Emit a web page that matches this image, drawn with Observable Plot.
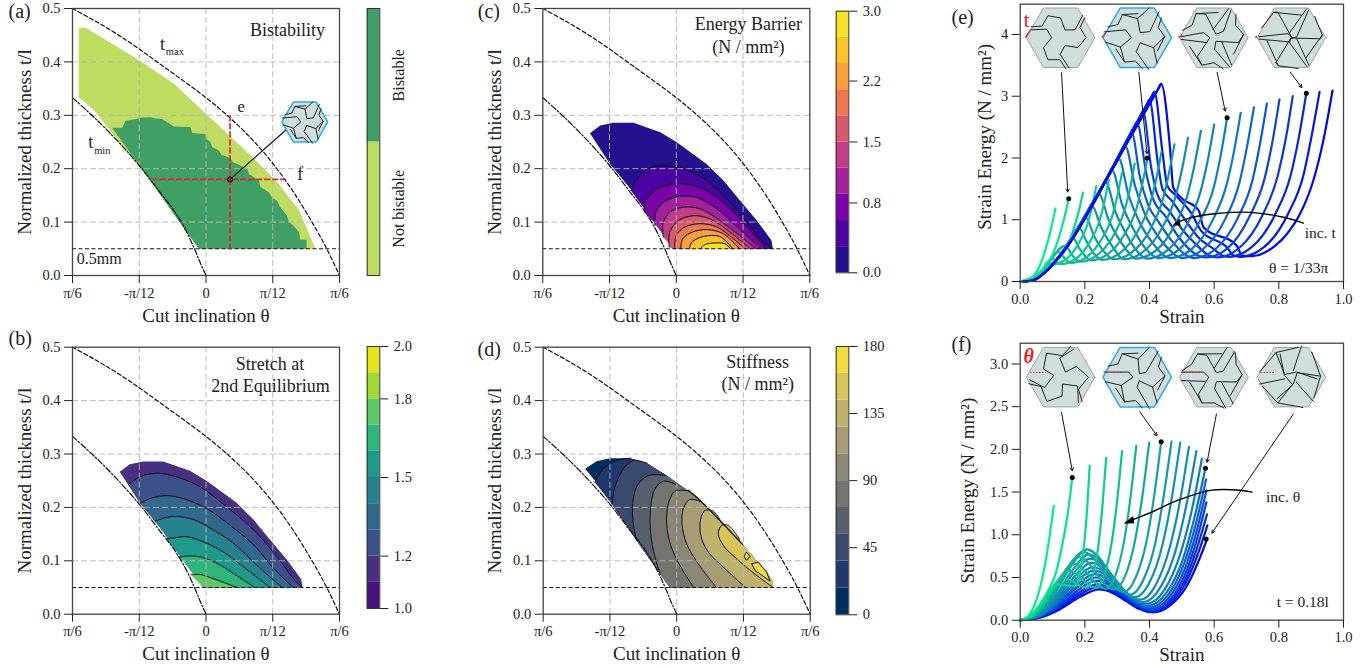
<!DOCTYPE html>
<html><head><meta charset="utf-8">
<script src="https://cdn.jsdelivr.net/npm/d3@7"></script>
<script src="https://cdn.jsdelivr.net/npm/@observablehq/plot@0.6"></script>
<style>html,body{margin:0;padding:0;background:#fff;width:1370px;height:668px;overflow:hidden}#root{position:relative;width:1370px;height:668px}svg{position:absolute}</style>
</head><body><div id="root"></div>
<script>
const serif='"Liberation Serif",serif';
// angle (degrees) / normalized thickness boundaries
const tMaxCurve=[[-30,.5],[-25,.477],[-20,.452],[-15,.424],[-10,.394],[-5,.364],[0,.333],[5,.298],[10,.258],[15,.21],[20,.152],[25,.083],[27.5,.044],[30,0]];
const tMinCurve=[[-30,.333],[-25,.295],[-20,.253],[-15,.206],[-10,.152],[-7.5,.125],[-5,.092],[-2.7,.052],[-1.2,.022],[0,0]];
const notBistableRegion=[[-28.6,.464],[-27,.464],[-15,.403],[-7.2,.359],[0,.303],[10,.225],[16,.175],[20.9,.122],[24.6,.05],[-1.6,.05],[-13.2,.184],[-25.1,.309],[-28.6,.334]];
const bistableRegion=[[-21.1,.2766],[-18.8,.2766],[-18.1,.29],[-15.5,.293],[-14.5,.296],[-12.5,.2965],[-11.5,.294],[-9.9,.293],[-7.2,.279],[-3.5,.278],[-3.1,.267],[-.1,.265],[.2,.255],[1,.25],[1.4,.24],[2.9,.234],[3.4,.226],[5.5,.22],[6,.212],[7.7,.206],[9.3,.2],[9.6,.19],[11.9,.178],[12.2,.166],[14.1,.156],[14.9,.145],[16,.14],[16.7,.128],[18.2,.112],[18.6,.1],[19.7,.093],[20.9,.081],[21.2,.067],[22.6,.067],[22.6,.05],[-1.6,.05],[-5.7,.097],[-12.5,.178]];
const outerUpper=[[-19.4,.2666],[-17.1,.281],[-14.1,.286],[-9.6,.286],[-3.6,.2684],[.1,.2497],[6.8,.209],[10.6,.178],[14.3,.1405],[18.1,.103],[21.4,.0656],[21.7,.05]];
const outerLower=[[-.6,.05],[-4.4,.0934],[-10,.159],[-14.9,.209]];
const stretchContours=[
 [[-17.3,.244],[-14.7,.258],[-10.9,.264],[-6.4,.2566],[-1.2,.238],[4.8,.2],[10.8,.157],[16,.107],[19.7,.066],[21.6,.05]],
 [[-14.7,.2085],[-12.4,.217],[-9.05,.222],[-4.9,.216],[.3,.197],[5.5,.166],[10.8,.129],[15.3,.085],[19.6,.05]],
 [[-11.5,.174],[-9.4,.18],[-6.8,.183],[-2.7,.177],[1.8,.157],[6.3,.132],[11.5,.091],[17.1,.05]],
 [[-8.9,.141],[-6.4,.144],[-4.2,.145],[-.45,.135],[4,.116],[8.5,.088],[14.4,.05]],
 [[-6.1,.107],[-3.8,.109],[-1.2,.107],[2.5,.0955],[6.3,.0755],[10.9,.05]],
 [[-3.4,.074],[-1.2,.074],[1.8,.066],[7,.05]]];
const stretchFills=["#47307f","#3c5089","#30698c","#26828e","#1f9a8a","#2fb47c","#5ec962"];
const barrierContours=[
 [[-10.2,.159],[-8.9,.181],[-5.9,.202],[-2.1,.205],[2.35,.198],[6.85,.178],[11.3,.144],[15.8,.1],[19.6,.0625],[21.5,.05]],
 [[-7.2,.119],[-6.6,.144],[-4.4,.162],[.1,.172],[4.6,.167],[9.1,.147],[13.6,.112],[17.3,.078],[20.2,.05]],
 [[-4.8,.094],[-4.6,.119],[-2.9,.137],[.5,.148],[4.6,.146],[9.1,.125],[13.6,.091],[19,.05]],
 [[-2.9,.072],[-3,.097],[-1.4,.119],[1.6,.128],[5.3,.125],[9.8,.103],[17.9,.05]],
 [[-1.6,.053],[-1.5,.081],[.5,.103],[3.9,.112],[7.6,.106],[12.1,.081],[16.6,.05]],
 [[-.3,.05],[-.05,.075],[2,.091],[5.3,.097],[9.1,.091],[12.8,.069],[15.5,.05]],
 [[1,.05],[1.45,.069],[3.5,.081],[6.9,.086],[10.6,.078],[14.2,.05]],
 [[2.95,.05],[3.5,.0625],[6.1,.073],[9.8,.073],[12.7,.05]],
 [[5.35,.05],[6.5,.058],[9.1,.061],[11,.059],[12.2,.05]]];
const barrierFills=["#24108c","#4a02a0","#7a02a8","#a3229b","#c23d88","#d9596b","#ed7953","#fb9f3a","#fdc328","#f7e225"];
const stiffOuterUpper=[[-20.6,.2723],[-18,.2866],[-15,.2922],[-10.5,.2922],[-6.75,.283],[-2.3,.2598],[4.5,.2192],[9.7,.1756],[15,.1288],[20.2,.0788],[21.6,.06],[21.6,.05]];
const stiffOuterLower=[[-1.5,.05],[-3.75,.0757],[-9,.1381],[-14.6,.2068],[-18.4,.2504]];
const stiffContours=[
 [[-18.4,.2473],[-16.5,.2723],[-13.5,.2879],[-10.5,.2922]],
 [[-14.5,.2068],[-13.9,.238],[-12,.2723],[-9.75,.2879],[-6.75,.283]],
 [[-9,.1381],[-9.75,.1693],[-9.9,.2068],[-8.85,.2411],[-6.4,.2598],[-2.6,.2598]],
 [[-3.75,.0757],[-4.88,.107],[-5.85,.1506],[-5.85,.2005],[-4.88,.2348],[-3,.2492],[0,.2423]],
 [[3.74,.0508],[.74,.0913],[-1.36,.1288],[-2.26,.1693],[-1.88,.2068],[-.38,.2305],[3,.2305]],
 [[8.83,.0508],[4.86,.0944],[2.24,.1319],[1.19,.1693],[1.49,.1974],[2.84,.2142],[5.6,.2099],[7.1,.1974]],
 [[15.35,.0508],[10.48,.0882],[7.1,.1163],[5.4,.1475],[5.4,.1787],[6.35,.1943],[8.23,.193],[9.7,.1774]],
 [[21.6,.0508],[17.97,.0726],[13.47,.1038],[10.48,.1288],[9.35,.1506],[10.1,.1662],[11.6,.1662],[14.2,.1394]]];
const stiffBlobs=[[[15.1,.1082],[15.7,.1163],[16.5,.1082],[15.7,.1007]],[[16.85,.0944],[18.3,.0976],[20.2,.0788],[21,.062],[19.5,.0707],[17.6,.0819]]];
const stiffEdge=[[2.6,.2317],[4.5,.2192],[9.7,.1756],[15,.1288]];
const stiffFills=["#002c62","#20386f","#3a4a6e","#585f6e","#74756f","#8b8777","#a69d75","#bfb26c","#d8c559"];
const stretchBar=["#45127a","#47307f","#3c5089","#30698c","#26828e","#1f9a8a","#2fb47c","#5ec962","#a0da39","#e3e419"];
const stiffBar=["#002c62","#20386f","#3a4a6e","#585f6e","#74756f","#8b8777","#a69d75","#bfb26c","#d8c559","#f5dc3e"];
// strain-energy curves, (e): increasing t
const e01=[[0,0],[.03,.04],[.06,.25],[.08,.55],[.095,.85],[.109,1.18]];
const e02=[[0,0],[.04,.07],[.08,.27],[.1,.43],[.12,.72],[.135,1],[.15,1.34]];
const e03=[[0,0],[.06,.13],[.09,.27],[.12,.38],[.15,.62],[.17,.93],[.185,1.22],[.194,1.44]];
const e04=[[0,0],[.04,.05],[.07,.18],[.083,.31],[.094,.27],[.136,.34],[.179,.6],[.207,.91],[.221,1.18],[.235,1.54]];
const e05=[[0,0],[.04,.05],[.07,.18],[.099,.37],[.125,.28],[.17,.36],[.214,.63],[.244,.96],[.259,1.26],[.274,1.64]];
const e06=[[0,0],[.04,.05],[.07,.18],[.119,.48],[.14,.36],[.156,.3],[.204,.39],[.251,.68],[.283,1.03],[.299,1.35],[.315,1.76]];
const e07=[[0,0],[.04,.05],[.07,.18],[.14,.58],[.16,.43],[.186,.32],[.236,.42],[.287,.73],[.32,1.11],[.338,1.46],[.354,1.91]];
const e08=[[0,0],[.03,.02],[.06,.09],[.1,.28],[.14,.55],[.161,.72],[.185,.52],[.205,.39],[.217,.34],[.27,.44],[.323,.77],[.359,1.17],[.376,1.54],[.394,2]];
const e09=[[0,0],[.03,.02],[.06,.09],[.1,.28],[.14,.55],[.16,.72],[.181,.88],[.205,.65],[.23,.44],[.253,.35],[.308,.46],[.363,.81],[.4,1.23],[.419,1.61],[.437,2.1]];
const e10=[[0,0],[.03,.02],[.06,.09],[.1,.28],[.14,.55],[.17,.78],[.19,.94],[.202,1.04],[.23,.72],[.26,.48],[.289,.36],[.345,.47],[.402,.84],[.439,1.29],[.458,1.7],[.477,2.22]];
const e11=[[0,0],[.03,.02],[.06,.09],[.1,.28],[.14,.55],[.18,.88],[.21,1.12],[.222,1.23],[.25,.88],[.285,.57],[.32,.36],[.38,.48],[.439,.87],[.479,1.35],[.499,1.78],[.519,2.33]];
const e12=[[0,0],[.03,.02],[.06,.09],[.1,.28],[.14,.55],[.19,.97],[.23,1.3],[.243,1.42],[.275,.98],[.31,.65],[.335,.47],[.356,.37],[.417,.49],[.478,.91],[.518,1.41],[.538,1.86],[.559,2.44]];
const e13=[[0,0],[.03,.02],[.06,.09],[.1,.28],[.14,.55],[.2,1.06],[.25,1.49],[.264,1.61],[.295,1.12],[.33,.75],[.36,.5],[.392,.37],[.454,.5],[.517,.93],[.558,1.46],[.579,1.93],[.6,2.54]];
const e14=[[.01,0],[.04,.02],[.09,.22],[.14,.53],[.21,1.15],[.27,1.68],[.284,1.8],[.315,1.25],[.35,.85],[.39,.52],[.428,.38],[.492,.52],[.555,.97],[.598,1.51],[.619,2.01],[.64,2.65]];
const e15=[[.01,0],[.04,.02],[.09,.22],[.14,.53],[.22,1.24],[.29,1.86],[.305,1.99],[.335,1.4],[.37,.95],[.41,.62],[.445,.42],[.464,.38],[.529,.52],[.595,.99],[.638,1.56],[.66,2.07],[.682,2.73]];
const e16=[[.01,0],[.04,.02],[.09,.22],[.14,.53],[.23,1.33],[.31,2.05],[.325,2.19],[.355,1.55],[.385,1.1],[.42,.78],[.46,.52],[.5,.38],[.567,.53],[.634,1.01],[.678,1.6],[.7,2.14],[.723,2.82]];
const e17=[[.01,0],[.04,.02],[.09,.22],[.14,.53],[.25,1.51],[.33,2.25],[.346,2.39],[.37,1.7],[.395,1.25],[.43,.95],[.47,.65],[.515,.42],[.537,.38],[.605,.53],[.673,1.03],[.718,1.63],[.74,2.18],[.763,2.88]];
const e18=[[.01,0],[.04,.02],[.09,.22],[.14,.53],[.26,1.6],[.35,2.48],[.361,2.58],[.39,1.75],[.41,1.35],[.45,1.05],[.49,.72],[.55,.42],[.573,.39],[.642,.54],[.71,1.06],[.756,1.67],[.779,2.23],[.802,2.95]];
const e19=[[.01,0],[.04,.02],[.09,.22],[.14,.53],[.27,1.69],[.37,2.66],[.38,2.75],[.405,1.85],[.425,1.4],[.46,1.15],[.5,.85],[.54,.62],[.585,.42],[.609,.39],[.679,.55],[.749,1.07],[.796,1.7],[.82,2.27],[.843,3]];
const e20=[[.01,0],[.04,.02],[.09,.22],[.14,.53],[.28,1.78],[.39,2.85],[.4,2.94],[.425,1.95],[.44,1.5],[.47,1.3],[.51,1],[.55,.72],[.6,.52],[.625,.42],[.645,.4],[.717,.56],[.789,1.09],[.837,1.73],[.861,2.31],[.885,3.05]];
const e21=[[.01,0],[.04,.02],[.09,.22],[.14,.53],[.29,1.87],[.405,2.98],[.415,3.07],[.44,2.1],[.455,1.55],[.48,1.4],[.53,1.1],[.56,.82],[.64,.55],[.66,.42],[.681,.4],[.755,.56],[.828,1.09],[.877,1.74],[.9,2.32],[.926,3.07]];
const e22=[[.01,0],[.04,.02],[.09,.22],[.14,.53],[.3,1.97],[.425,3.1],[.436,3.2],[.464,2.12],[.473,1.53],[.495,1.37],[.552,1.15],[.567,.88],[.67,.58],[.686,.42],[.717,.41],[.789,.58],[.825,.77],[.866,1.1],[.907,1.64],[.938,2.29],[.966,3.09]];
const curvesE=[e01,e02,e03,e04,e05,e06,e07,e08,e09,e10,e11,e12,e13,e14,e15,e16,e17,e18,e19,e20,e21,e22];
// (f): increasing theta
const f01=[[0,0],[.02,.03],[.04,.14],[.06,.36],[.08,.72],[.104,1.34]];
const f02=[[0,0],[.03,.05],[.06,.18],[.09,.37],[.11,.55],[.13,.88],[.146,1.22],[.161,1.67]];
const f03=[[0,0],[.03,.04],[.06,.16],[.09,.31],[.115,.42],[.14,.41],[.17,.4],[.185,.55],[.198,.9],[.207,1.3],[.215,1.81]];
const f04=[[0,0],[.033,.04],[.065,.175],[.098,.375],[.13,.5],[.149,.48],[.168,.44],[.186,.4],[.205,.38],[.225,.53],[.242,.88],[.254,1.32],[.266,1.9]];
const f05=[[0,0],[.037,.046],[.074,.203],[.111,.435],[.148,.58],[.17,.55],[.192,.48],[.213,.41],[.235,.38],[.261,.54],[.283,.91],[.299,1.37],[.315,1.98]];
const f06=[[0,0],[.041,.053],[.083,.23],[.124,.495],[.165,.66],[.19,.617],[.215,.515],[.24,.415],[.265,.37],[.296,.537],[.321,.92],[.34,1.405],[.359,2.04]];
const f07=[[0,0],[.045,.06],[.09,.26],[.135,.555],[.18,.74],[.208,.683],[.235,.55],[.263,.417],[.29,.36],[.326,.53],[.355,.93],[.377,1.43],[.399,2.08]];
const f08=[[0,0],[.049,.064],[.098,.28],[.146,.6],[.195,.8],[.226,.73],[.258,.565],[.289,.4],[.32,.33],[.358,.506],[.39,.91],[.413,1.42],[.436,2.09]];
const f09=[[0,0],[.052,.066],[.104,.29],[.155,.62],[.207,.83],[.24,.75],[.274,.565],[.307,.38],[.34,.3],[.382,.48],[.417,.89],[.442,1.41],[.468,2.09]];
const f10=[[0,0],[.053,.062],[.107,.27],[.16,.578],[.213,.77],[.249,.695],[.284,.52],[.32,.345],[.355,.27],[.401,.45],[.439,.867],[.467,1.39],[.495,2.08]];
const f11=[[0,0],[.054,.058],[.109,.252],[.163,.54],[.217,.72],[.255,.648],[.294,.48],[.332,.31],[.37,.24],[.42,.419],[.461,.83],[.492,1.35],[.522,2.03]];
const f12=[[0,0],[.055,.054],[.11,.235],[.165,.5],[.22,.67],[.26,.6],[.3,.44],[.34,.275],[.38,.21],[.434,.387],[.479,.794],[.512,1.31],[.545,1.98]];
const f13=[[0,0],[.056,.05],[.112,.217],[.168,.465],[.224,.62],[.266,.555],[.307,.405],[.349,.255],[.39,.19],[.447,.36],[.493,.75],[.528,1.24],[.562,1.89]];
const f14=[[0,0],[.057,.046],[.114,.203],[.17,.435],[.227,.58],[.269,.52],[.311,.375],[.353,.23],[.395,.17],[.454,.331],[.502,.7],[.537,1.17],[.573,1.78]];
const f15=[[0,0],[.058,.043],[.115,.189],[.173,.405],[.23,.54],[.273,.48],[.315,.345],[.358,.21],[.4,.15],[.458,.3],[.505,.645],[.54,1.08],[.575,1.65]];
const f16=[[0,0],[.058,.04],[.116,.175],[.174,.375],[.232,.5],[.275,.445],[.319,.315],[.362,.185],[.405,.13],[.461,.269],[.508,.589],[.542,.992],[.576,1.52]];
const f17=[[0,0],[.059,.037],[.118,.161],[.176,.345],[.235,.46],[.279,.409],[.323,.29],[.366,.171],[.41,.12],[.465,.246],[.51,.536],[.543,.9],[.576,1.38]];
const f18=[[0,0],[.059,.034],[.118,.147],[.178,.315],[.237,.42],[.28,.374],[.324,.265],[.367,.157],[.41,.11],[.465,.223],[.511,.483],[.544,.811],[.578,1.24]];
const f19=[[0,0],[.06,.03],[.12,.137],[.18,.29],[.24,.39],[.283,.347],[.325,.245],[.368,.144],[.41,.1],[.466,.2],[.511,.433],[.545,.726],[.579,1.11]];
const f20=[[0,0],[.061,.03],[.122,.126],[.184,.27],[.245,.36],[.286,.32],[.328,.225],[.369,.13],[.41,.09],[.465,.176],[.511,.374],[.544,.623],[.578,.95]];
const curvesF=[f01,f02,f03,f04,f05,f06,f07,f08,f09,f10,f11,f12,f13,f14,f15,f16,f17,f18,f19,f20];
const curveStops=["#00f088","#10a89a","#0c78c8","#0008ee"];
// unit-hexagon cell sketches: one 120-degree sector of the cut pattern
const hexOutline=[[1,0],[.5,.866],[-.5,.866],[-1,0],[-.5,-.866],[.5,-.866]];
const cutsE1=[[[-.89,-.23],[-.41,-.25],[-.26,0],[-.5,.29],[-.37,.64],[-.02,.64],[.15,.9]]];
const cutsE2=[[[-.97,-.17],[-.34,-.23],[-.17,0],[-.49,.27],[-.37,.71],[-.05,.68],[.15,.9]],[[-.49,.27],[-.93,.13]],[[-.37,.71],[-.62,.33]]];
const cutsE3=[[[-.95,-.03],[-.3,-.15],[-.12,0],[-.48,.55],[-.35,.8],[0,.73],[.27,.9]],[[-.95,.05],[-.2,.14]],[[-.35,.8],[-.7,.26]]];
const cutsE4=[[[-.95,-.03],[-.1,-.12],[0,-.02],[-.45,.72],[-.38,.82],[-.05,.86],[.2,.9]],[[-.95,.04],[-.08,.12]],[[-.38,.82],[-.72,.07]]];
const cutsF1=[[[-.9,.08],[-.47,.3],[-.2,-.05],[-.5,-.24],[-.41,-.7],[.05,-.63],[.3,-.9]]];
const cutsF2=[[[-.97,-.15],[-.25,-.15],[-.12,0],[-.47,.24],[-.37,.72],[-.05,.68],[.15,.9]],[[-.47,.24],[-.93,.13]],[[-.37,.72],[-.62,.33]]];
const cutsF3=[[[-.95,-.15],[-.3,-.15],[-.15,0],[-.45,.5],[-.35,.75],[0,.75],[.3,.9]],[[-.95,.1],[-.25,.12]],[[-.35,.75],[-.7,.15]]];
const cutsF4=[[[-.93,-.15],[-.45,-.72],[.2,-.87]],[[-.45,-.72],[-.2,-.08],[.15,-.15],[.75,.05]],[[-.93,.2],[-.2,.05]]];
const hexE=[[.125,3.947,cutsE1,0],[.362,3.947,cutsE2,1],[.599,3.947,cutsE3,0],[.839,3.947,cutsE4,0]];
const hexF=[[.125,2.845,cutsF1,0],[.362,2.845,cutsF2,1],[.599,2.845,cutsF3,0],[.839,2.845,cutsF4,0]];
const markE=[[.0164,3.95,.03,4.06],[.2535,3.95,.264,4.03],[.49,3.95,.5,3.995],[.727,3.95,.733,3.97]];
const markF=[[.03,2.9,.078,2.9],[.271,2.9,.315,2.9],[.505,2.9,.558,2.9],[.743,2.9,.79,2.9]];
const leadersE=[[.128,3.38,.147,1.45],[.367,3.39,.392,2.07],[.609,3.39,.634,2.76],[.835,3.39,.871,3.14]];
const leadersF=[[.128,2.43,.161,1.75],[.37,2.44,.423,2.16],[.607,2.415,.578,1.85],[.845,2.415,.593,1.02]];
const dotsE=[[.15,1.34],[.393,2],[.64,2.65],[.885,3.05]];
const dotsF=[[.161,1.67],[.436,2.09],[.573,1.78],[.575,.95]];
const incT=[[.876,.946],[.815,1.04],[.712,1.12],[.609,1.1],[.526,1.03],[.487,.962]];
const incTheta=[[.717,1.5],[.67,1.525],[.588,1.52],[.485,1.4],[.403,1.26],[.341,1.167]];
const headT=[[.47,.908],[.493,1.016],[.496,.908]];
const headTheta=[[.32,1.128],[.349,1.221],[.353,1.135]];
const thetaTicks=[-30,-15,0,15,30], thetaLabels=["π/6","-π/12","0","π/12","π/6"];
const thickTicks=[0,.1,.2,.3,.4,.5];
const redV=[[5.4,.05],[5.4,.3]], redH=[[-12,.18],[17.4,.18]];

const P=a=>a.map(([x,y])=>({x,y}));
const root=document.getElementById("root");
const place=(p,l,t)=>{p.style.left=l+"px";p.style.top=t+"px";p.style.position="absolute";p.style.overflow="visible";root.append(p);};
const tx=(s,x,y,o={})=>Plot.text([s],{x:()=>x,y:()=>y,fontSize:16.5,fill:"#222",...o});
const base={fontFamily:serif,fontSize:"14.5px",background:"transparent",color:"#222"};

function hexMarks(cx,cy,r,sx,sy,cuts,blue){
  const map=([u,v])=>({x:cx+u*r/sx,y:cy-v*r/sy});
  const lines=[];
  [0,1,2].forEach(i=>{const a=i*2*Math.PI/3,c=Math.cos(a),s=Math.sin(a);
    cuts.forEach((pl,j)=>pl.forEach(([u,v])=>lines.push({id:i+"-"+j,...map([u*c-v*s,u*s+v*c])})));});
  return [
    Plot.line(hexOutline.concat([hexOutline[0]]).map(map),{x:"x",y:"y",fill:"#cfdedd",stroke:blue?"#27aee4":"#9aa6a6",strokeWidth:blue?1.5:1}),
    Plot.line(lines,{x:"x",y:"y",z:"id",stroke:"#222",strokeWidth:1})
  ];
}
function thetaPanel(o){
  return Plot.plot({style:base,width:430,height:o.h,marginLeft:o.ml,marginRight:430-o.ml-267,marginTop:o.mt,marginBottom:o.h-o.mt-267,
    x:{domain:[-30,30]},y:{domain:[0,.5]},
    marks:[
      ...o.under,
      Plot.gridX([-15,0,15],{stroke:"#b5b5b5",strokeOpacity:.9,strokeDasharray:"6 3"}),
      Plot.gridY([.1,.2,.3,.4],{stroke:"#b5b5b5",strokeOpacity:.9,strokeDasharray:"6 3"}),
      Plot.line(P(tMaxCurve),{x:"x",y:"y",stroke:"#111",strokeWidth:1.2,strokeDasharray:"4 2.5",curve:"catmull-rom"}),
      Plot.line(P(tMinCurve),{x:"x",y:"y",stroke:"#111",strokeWidth:1.2,strokeDasharray:"6 2 1.5 2",curve:"catmull-rom"}),
      Plot.ruleY([.05],{stroke:"#111",strokeWidth:1.1,strokeDasharray:"4 2.5"}),
      ...(o.over||[]),
      Plot.frame({stroke:"#444",strokeWidth:1.3}),
      Plot.axisX(thetaTicks,{tickSize:8,tickPadding:4,label:null,tickFormat:d=>thetaLabels[thetaTicks.indexOf(d)]}),
      Plot.axisY(thickTicks,{tickSize:8,tickPadding:4,label:null,tickFormat:d=>d.toFixed(1)}),
      Plot.text(["Cut inclination θ"],{frameAnchor:"bottom",dy:40,lineAnchor:"middle",fontSize:19,fill:"#222"}),
      Plot.text(["Normalized thickness t/l"],{frameAnchor:"left",rotate:-90,dx:-48,textAnchor:"middle",lineAnchor:"middle",fontSize:19,fill:"#222"}),
      Plot.text([o.tag],{frameAnchor:"top-left",dx:o.tagX,dy:o.tagY,lineAnchor:"middle",textAnchor:"start",fontSize:20,fill:"#222"})
    ]});
}
function contourMarks(contours,fills,upper,lower,closeUpper){
  const outline=upper.concat(lower);
  const marks=[Plot.line(P(outline),{x:"x",y:"y",fill:fills[0],stroke:"none"})];
  contours.forEach((c,i)=>{
    const start=c[0],end=c[c.length-1];
    const tail=closeUpper?upper.filter(p=>p[0]>end[0]+.01):[];
    const poly=c.concat(tail,lower.filter(p=>p[1]<start[1]));
    marks.push(Plot.line(P(poly),{x:"x",y:"y",fill:fills[i+1],stroke:"none"}));
  });
  contours.forEach(c=>marks.push(Plot.line(P(c),{x:"x",y:"y",stroke:"#111",strokeWidth:1,curve:"catmull-rom"})));
  return marks;
}
function colorBar(o){
  const n=o.fills.length,rows=o.fills.map((f,i)=>({y1:o.max*i/n,y2:o.max*(i+1)/n,f}));
  return Plot.plot({style:base,width:70,height:o.h,marginLeft:o.ml,marginRight:70-o.ml-12.6,marginTop:o.mt,marginBottom:o.mb,
    x:{domain:[0,1]},y:{domain:[0,o.max]},
    marks:[
      Plot.rect(rows,{x1:()=>0,x2:()=>1,y1:"y1",y2:"y2",fill:"f"}),
      Plot.frame({stroke:"#333",strokeWidth:1}),
      Plot.axisX([],{label:null,tickSize:0}),
      ...(o.ticks?[Plot.axisY(o.ticks,{anchor:"right",tickSize:8,tickPadding:6,label:null,tickFormat:o.fmt})]:[Plot.axisY([],{label:null,tickSize:0})]),
      ...(o.extra||[])
    ]});
}

// (a)
const aHexX=22.2,aHexY=.2875;
place(thetaPanel({h:330,ml:72,mt:8,tag:"(a)",tagX:-64,tagY:3,
  under:[Plot.line(P(notBistableRegion),{x:"x",y:"y",fill:"#bfdc60",stroke:"none"}),
         Plot.line(P(bistableRegion),{x:"x",y:"y",fill:"#3f9f65",stroke:"none"})],
  over:[
    Plot.line(P(redV),{x:"x",y:"y",stroke:"#e6262c",strokeWidth:1.7,strokeDasharray:"5 3"}),
    Plot.line(P(redH),{x:"x",y:"y",stroke:"#e6262c",strokeWidth:1.7,strokeDasharray:"5 3"}),
    Plot.line(P([[5.4,.18],[17.9,.272]]),{x:"x",y:"y",stroke:"#111",strokeWidth:1.2}),
    Plot.dot([[5.4,.18]],{x:d=>d[0],y:d=>d[1],r:2.3,stroke:"#111",strokeWidth:1.2,fill:"none"}),
    ...hexMarks(aHexX,aHexY,23,4.45,534,cutsE2,true),
    tx("Bistability",18.3,.46,{fontSize:18}),
    tx("t",-9.8,.434,{fontSize:18}),tx("max",-7,.419,{fontSize:10.5}),
    tx("t",-25.9,.25,{fontSize:18}),tx("min",-23.3,.234,{fontSize:10.5}),
    tx("e",7.9,.316),tx("f",21.2,.189,{fontSize:18}),tx("0.5mm",-24,.031,{fontSize:16})
  ]}),0,0);
place(colorBar({h:330,ml:6.7,mt:8,mb:55,max:2,fills:["#bfdc60","#3f9f65"],
  extra:[Plot.text(["Bistable"],{x:()=>1,y:()=>1.5,rotate:-90,dx:19,fontSize:16,fill:"#222"}),
         Plot.text(["Not bistable"],{x:()=>1,y:()=>.5,rotate:-90,dx:19,fontSize:16,fill:"#222"})]}),360,0);
// (b)
place(thetaPanel({h:338,ml:72,mt:16.7,tag:"(b)",tagX:-64,tagY:-8.7,
  under:contourMarks(stretchContours,stretchFills,outerUpper,outerLower,false),
  over:[tx("Stretch at",14.4,.469,{fontSize:18}),tx("2nd Equilibrium",14.5,.426,{fontSize:18})]}),0,330);
place(colorBar({h:338,ml:6.7,mt:16,mb:60,max:10,fills:stretchBar,ticks:[0,2,5,8,10],fmt:d=>({0:"1.0",2:"1.2",5:"1.5",8:"1.8",10:"2.0"})[d]}),360,330);
// (c)
place(thetaPanel({h:330,ml:72.3,mt:8,tag:"(c)",tagX:-65,tagY:3,
  under:contourMarks(barrierContours,barrierFills,outerUpper,outerLower,false),
  over:[tx("Energy Barrier",16.2,.47,{fontSize:18}),tx("(N / mm²)",16.2,.428,{fontSize:18})]}),470,0);
place(colorBar({h:330,ml:5.7,mt:10.7,mb:57.7,max:10,fills:barrierFills,ticks:[0,2.67,5,7.33,10],fmt:d=>({0:"0.0",2.67:"0.8",5:"1.5",7.33:"2.2",10:"3.0"})[d]}),830,0);
// (d)
place(thetaPanel({h:338,ml:72.7,mt:16.7,tag:"(d)",tagX:-65.7,tagY:2.3,
  under:[...contourMarks(stiffContours,stiffFills,stiffOuterUpper,stiffOuterLower,true),
    ...stiffBlobs.map(b=>Plot.line(P(b.concat([b[0]])),{x:"x",y:"y",fill:"#f5dc3e",stroke:"#111",strokeWidth:1})),
    Plot.line(P(stiffEdge),{x:"x",y:"y",stroke:"#111",strokeWidth:1.3,curve:"catmull-rom"})],
  over:[tx("Stiffness",18.2,.472,{fontSize:18}),tx("(N / mm²)",18.2,.431,{fontSize:18})]}),470,330);
place(colorBar({h:338,ml:5.7,mt:16,mb:53.7,max:10,fills:stiffBar,ticks:[0,2.5,5,7.5,10],fmt:d=>({0:"0",2.5:"45",5:"90",7.5:"135",10:"180"})[d]}),830,330);

// (e) and (f)
function strainPanel(o){
  const flat=[];
  for(let k=o.curves.length;k>=1;k--) o.curves[k-1].forEach(([x,y])=>flat.push({k,x,y}));
  const n=o.curves.length;
  // the thicker cells' loading branches lie on top of the envelope
  const front=[];
  if(o.frontFrom) for(let k=o.frontFrom;k<=n;k++){
    const c=o.curves[k-1],top=c.findIndex((p,i)=>i+1<c.length&&c[i+1][1]<p[1]);
    c.slice(0,top+1).forEach(([x,y])=>front.push({k,x,y}));
  }
  return Plot.plot({style:base,width:420,height:o.h,marginLeft:69.7,marginRight:27,marginTop:o.mt,marginBottom:o.mb,
    x:{domain:[0,1]},y:{domain:[0,o.ymax]},
    color:{type:"linear",domain:[1,(2*1+n)/3,(1+2*n)/3,n],range:curveStops},
    marks:[
      Plot.line(flat,{x:"x",y:"y",z:"k",stroke:"k",strokeWidth:2.2,curve:"monotone-x"}),
      Plot.line(front,{x:"x",y:"y",z:"k",stroke:"k",strokeWidth:2.2,curve:"monotone-x"}),
      ...o.hexes.flatMap(([cx,cy,c,b])=>hexMarks(cx,cy,34.3,323.3,o.sy,c,b)),
      ...o.red,
      Plot.arrow(o.leaders,{x1:d=>d[0],y1:d=>d[1],x2:d=>d[2],y2:d=>d[3],stroke:"#111",strokeWidth:1,headLength:5}),
      Plot.dot(o.dots,{x:d=>d[0],y:d=>d[1],r:2.5,fill:"#000"}),
      Plot.line(P(o.inc),{x:"x",y:"y",stroke:"#000",strokeWidth:1.4,curve:"catmull-rom"}),
      Plot.line(P(o.head),{x:"x",y:"y",fill:"#000",stroke:"none"}),
      ...o.texts,
      Plot.frame({stroke:"#444",strokeWidth:1.3}),
      Plot.axisX([0,.2,.4,.6,.8,1],{tickSize:8,tickPadding:4,label:null,tickFormat:d=>d.toFixed(1)}),
      Plot.axisY(o.yticks,{tickSize:8,tickPadding:4,label:null,tickFormat:o.yfmt}),
      Plot.text(["Strain"],{frameAnchor:"bottom",dy:35,lineAnchor:"middle",fontSize:19,fill:"#222"}),
      Plot.text(["Strain Energy (N / mm²)"],{frameAnchor:"left",rotate:-90,dx:o.ylx,dy:o.yly,textAnchor:"middle",lineAnchor:"middle",fontSize:19,fill:"#222"}),
      Plot.text([o.tag],{frameAnchor:"top-left",dx:-68.7,dy:o.tagY,lineAnchor:"middle",textAnchor:"start",fontSize:20,fill:"#222"})
    ]});
}
place(strainPanel({h:330,mt:3.7,mb:49,ymax:4.49,sy:61.75,curves:curvesE,frontFrom:14,hexes:hexE,leaders:leadersE,dots:dotsE,inc:incT,head:headT,
  yticks:[0,1,2,3,4],yfmt:d=>d,ylx:-35,yly:-6,tag:"(e)",tagY:13,
  red:[Plot.link(markE,{x1:d=>d[0],y1:d=>d[1],x2:d=>d[2],y2:d=>d[3],stroke:"#e8242c",strokeWidth:1.5}),
       tx("t",.02,4.23,{fill:"#e8242c",fontSize:22})],
  texts:[tx("inc. t",.928,.79,{fontSize:15.5}),tx("θ = 1/33π",.861,.22,{fontSize:15.5})]}),950,0);
place(strainPanel({h:338,mt:12.7,mb:48.3,ymax:3.243,sy:85.4,curves:curvesF,hexes:hexF,leaders:leadersF,dots:dotsF,inc:incTheta,head:headTheta,
  yticks:[0,.5,1,1.5,2,2.5,3],yfmt:d=>d.toFixed(1),ylx:-52,yly:9,tag:"(f)",tagY:1.5,
  red:[Plot.link(markF,{x1:d=>d[0],y1:d=>d[1],x2:d=>d[2],y2:d=>d[3],stroke:"#e8242c",strokeWidth:1,strokeDasharray:"1.5 1.5"}),
       tx("θ",.026,3.09,{fill:"#f01c24",fontSize:20,fontStyle:"italic",fontWeight:"bold"})],
  texts:[tx("inc. θ",.813,1.44,{fontSize:15.5}),tx("t = 0.18l",.874,.21,{fontSize:15.5})]}),950,330);
</script></body></html>
